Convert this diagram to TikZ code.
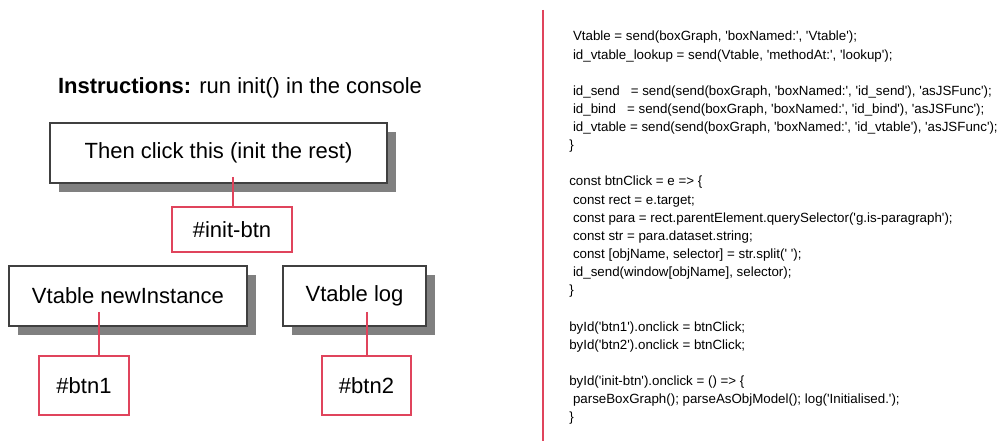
\documentclass[tikz,border=0pt]{standalone}
\usepackage{fontspec}
\setmainfont{Liberation Sans}
\usetikzlibrary{shadows}
\definecolor{linkred}{RGB}{224,68,92}
\definecolor{boxgray}{RGB}{64,64,64}
\newcommand\sq{\textquotesingle}
\newcommand\indt{\hspace*{0.28em}}
\begin{document}
\begin{tikzpicture}[x=0.75pt,y=-0.75pt,
  boxsize/.style 2 args={minimum width=#1*0.75pt, minimum height=#2*0.75pt},
  label/.style={font=\fontsize{16.5pt}{20pt}\selectfont, inner sep=0pt},
  shadowbox/.style={label, draw=boxgray, line width=1.5pt, fill=white,
    drop shadow={shadow xshift=6.75pt, shadow yshift=-6.75pt, fill=black!50, opacity=1}},
  idbox/.style={label, draw=linkred, line width=1.5pt, fill=white},
  link/.style={draw=linkred, line width=1.5pt},
  code/.style={font=\fontsize{10pt}{13.6pt}\selectfont, align=left, inner sep=0pt, anchor=north west}]
\useasboundingbox (0,0) rectangle (1008,441);
\node[label] (instr) at (240,88) {\textbf{Instructions:} run init() in the console};
\node[shadowbox, boxsize={337}{60}] (clickbox) at (218.5,153) {Then click this (init the rest)};
\node[idbox, boxsize={120}{45}] (initbtn) at (232,229.5) {\#init-btn};
\node[shadowbox, boxsize={238}{60}] (newinst) at (128,296) {Vtable newInstance};
\node[shadowbox, boxsize={143}{60}] (vlog) at (354.5,296) {Vtable log};
\node[idbox, boxsize={90}{59}] (btn1) at (84,385.5) {\#btn1};
\node[idbox, boxsize={89}{59}] (btn2) at (366.5,385.5) {\#btn2};
\coordinate (initpin) at (233,177);
\coordinate (btn1pin) at (99,312);
\coordinate (btn2pin) at (367,312);
\draw[link] (initpin) -- (initpin |- initbtn.north);
\draw[link] (btn1pin) -- (btn1pin |- btn1.north);
\draw[link] (btn2pin) -- (btn2pin |- btn2.north);
\draw[link] (543,10) -- (543,441);
\node[code] (listing) at (569,31) {%
\indt Vtable = send(boxGraph, \sq boxNamed:\sq, \sq Vtable\sq);\\
\indt id\_vtable\_lookup = send(Vtable, \sq methodAt:\sq, \sq lookup\sq);\\
\mbox{}\\
\indt id\_send\ \ \ = send(send(boxGraph, \sq boxNamed:\sq, \sq id\_send\sq), \sq asJSFunc\sq);\\
\indt id\_bind\ \ \ = send(send(boxGraph, \sq boxNamed:\sq, \sq id\_bind\sq), \sq asJSFunc\sq);\\
\indt id\_vtable = send(send(boxGraph, \sq boxNamed:\sq, \sq id\_vtable\sq), \sq asJSFunc\sq);\\
\}\\
\mbox{}\\
const btnClick = e => \{\\
\indt const rect = e.target;\\
\indt const para = rect.parentElement.querySelector(\sq g.is-paragraph\sq);\\
\indt const str = para.dataset.string;\\
\indt const [objName, selector] = str.split(\sq\ \sq);\\
\indt id\_send(window[objName], selector);\\
\}\\
\mbox{}\\
byId(\sq btn1\sq).onclick = btnClick;\\
byId(\sq btn2\sq).onclick = btnClick;\\
\mbox{}\\
byId(\sq init-btn\sq).onclick = () => \{\\
\indt parseBoxGraph(); parseAsObjModel(); log(\sq Initialised.\sq);\\
\}};
\end{tikzpicture}
\end{document}
